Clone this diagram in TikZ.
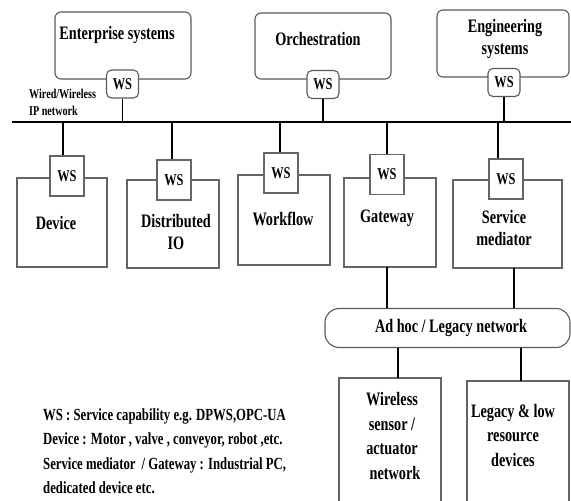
\documentclass[tikz,border=0pt]{standalone}
\usepackage{fontspec}
\setmainfont{Liberation Serif}[FakeStretch=0.75]
\begin{document}
\begin{tikzpicture}[x=1pt,y=-1pt,
  sysbox/.style={draw=black!65, line width=1.1pt, rounded corners=6pt, inner sep=0pt},
  wstop/.style={draw=black!65, line width=1.1pt, rounded corners=5pt, fill=white, inner sep=0pt,
                minimum width=32pt, minimum height=28pt, font=\bfseries\fontsize{16.5}{16}\selectfont},
  unitbox/.style={draw=black!60, line width=1.6pt, inner sep=0pt},
  wsbot/.style={draw=black!60, line width=1.6pt, fill=white, inner sep=0pt,
                minimum width=34pt, minimum height=40pt, font=\bfseries\fontsize{16.5}{16}\selectfont},
  lbl/.style={font=\bfseries\fontsize{19}{22}\selectfont, align=center, inner sep=0pt},
  note/.style={font=\bfseries\fontsize{17}{24.5}\selectfont, align=left, inner sep=0pt, anchor=north west},
  wire/.style={line width=1.2pt, black}]
\useasboundingbox (0,0) rectangle (571,501);

% upper tier: enterprise, orchestration, engineering
\node[sysbox, minimum width=136pt, minimum height=67pt] (ent) at (123,45.5) {};
\node[lbl] (enttxt) at (117,35) {Enterprise systems};
\node[wstop] (entws) at (122.5,84) {WS};

\node[sysbox, minimum width=136pt, minimum height=66pt] (orch) at (323,46) {};
\node[lbl] (orchtxt) at (318,39) {Orchestration};
\node[wstop] (orchws) at (323,84.5) {WS};

\node[sysbox, minimum width=132pt, minimum height=67pt] (eng) at (503,43.5) {};
\node[lbl] (engtxt) at (505,38.5) {Engineering\\systems};
\node[wstop] (engws) at (504,82.5) {WS};

% IP network bus
\coordinate (busL) at (12,122);
\coordinate (busR) at (571,122);
\draw[line width=2pt] (busL) -- (busR);
\node[font=\bfseries\fontsize{13.5}{17}\selectfont, align=left, anchor=west, inner sep=0pt] (iplbl) at (29,102) {Wired/Wireless\\IP network};

\draw[wire] (entws.south) -- (entws.south |- busL);
\draw[wire] (orchws.south) -- (orchws.south |- busL);
\draw[wire] (engws.south) -- (engws.south |- busL);

% lower tier units with their service interface
\node[unitbox, minimum width=90pt, minimum height=89pt] (dev) at (62,222.5) {};
\node[wsbot] (devws) at (67,176) {WS};
\node[lbl] (devtxt) at (56,223) {Device};

\node[unitbox, minimum width=92pt, minimum height=88pt] (dio) at (173,224) {};
\node[wsbot] (dions) at (174,180) {WS};
\node[lbl] (diotxt) at (176,232) {Distributed\\IO};

\node[unitbox, minimum width=92pt, minimum height=90pt] (wf) at (284,220) {};
\node[wsbot] (wfws) at (281,173) {WS};
\node[lbl] (wftxt) at (283,219) {Workflow};

\node[unitbox, minimum width=92pt, minimum height=89pt] (gw) at (390,222.5) {};
\node[wsbot] (gwws) at (387,174.5) {WS};
\node[lbl] (gwtxt) at (387,218) {Gateway};

\node[unitbox, minimum width=109pt, minimum height=88pt] (sm) at (507.5,224) {};
\node[wsbot] (smws) at (506,179) {WS};
\node[lbl] (smtxt) at (504,228) {Service\\mediator};

\coordinate (t1) at (63,122);
\coordinate (t2) at (172,122);
\coordinate (t3) at (280,122);
\coordinate (t4) at (387,122);
\coordinate (t5) at (498,122);
\draw[wire] (t1) -- (t1 |- devws.north);
\draw[wire] (t2) -- (t2 |- dions.north);
\draw[wire] (t3) -- (t3 |- wfws.north);
\draw[wire] (t4) -- (t4 |- gwws.north);
\draw[wire] (t5) -- (t5 |- smws.north);

% ad hoc / legacy network
\node[draw=black!65, line width=1.1pt, rounded corners=14pt, minimum width=245pt, minimum height=39pt,
      inner sep=0pt] (adhoc) at (447.5,328) {};
\node[lbl] (adhoctxt) at (451,328) {Ad hoc / Legacy network};

\coordinate (g1) at (387,267);
\coordinate (g2) at (514,268);
\draw[wire] (g1) -- (g1 |- adhoc.north);
\draw[wire] (g2) -- (g2 |- adhoc.north);

% field-level boxes, running off the lower edge
\coordinate (wsnTL) at (339,378);
\coordinate (wsnTR) at (441,378);
\coordinate (lgTL) at (467,381);
\coordinate (lgTR) at (569,381);
\draw[draw=black!60, line width=1.6pt] (339,510) -- (wsnTL) -- (wsnTR) -- (441,510);
\draw[draw=black!60, line width=1.6pt] (467,510) -- (lgTL) -- (lgTR) -- (569,510);
\coordinate (d1) at (398,378);
\coordinate (d2) at (521,381);
\draw[wire] (d1 |- adhoc.south) -- (d1);
\draw[wire] (d2 |- adhoc.south) -- (d2);
\node[lbl, font=\bfseries\fontsize{19}{24.5}\selectfont] (wsntxt) at (392,436) {Wireless\\sensor /\\actuator\\\hspace*{6pt}network};
\node[lbl, font=\bfseries\fontsize{19}{24.5}\selectfont] (lgtxt) at (513,435) {Legacy \& low\\resource\\devices};

% legend
\node[note] (legend) at (43,408) {WS : Service capability e.g. DPWS,OPC-UA\\
Device : Motor , valve , conveyor, robot ,etc.\\
Service mediator\, / Gateway : Industrial PC,\\
dedicated device etc.};
\end{tikzpicture}
\end{document}
